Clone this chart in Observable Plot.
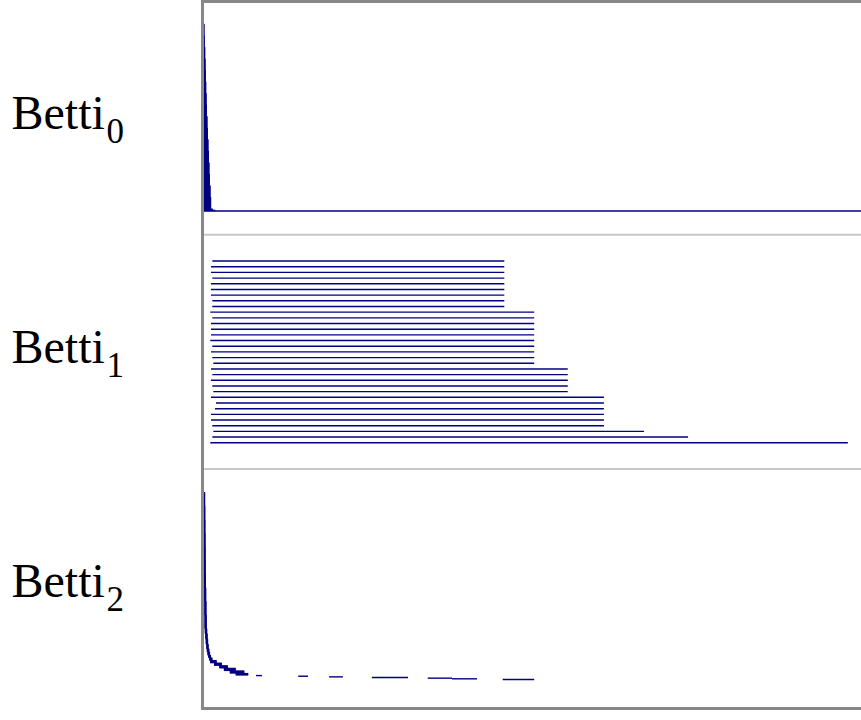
<!DOCTYPE html>
<html>
<head>
<meta charset="utf-8">
<script src="https://cdn.jsdelivr.net/npm/d3@7"></script>
<script src="https://cdn.jsdelivr.net/npm/@observablehq/plot@0.6"></script>
<style>
  body { margin: 0; background: #ffffff; }
  #chart svg { display: block; }
</style>
</head>
<body>
<div id="chart"></div>
<script>
// Homology dimensions (one band each)
const dims = ["0", "1", "2"];
const labelText = "Betti";

// Filtration range shown (arbitrary units, no axis in the reference)
const xMax = 100;

// Betti 0: all bars born at 0; deaths with multiplicities, last bar is infinite
const betti0Death = [0.15, 0.2, 0.26, 0.31, 0.36, 0.41, 0.47, 0.53, 0.6, 0.68, 0.75, 0.83, 0.9, 0.98, 1.07, 1.16, 1.4, 1.8, Infinity];
const betti0Count = [18, 18, 18, 18, 18, 18, 18, 18, 18, 18, 18, 18, 18, 18, 18, 18, 2, 1, 1];

// Betti 1: 33 bars
const betti1Birth = [1.34, 1.14, 1.14, 1.34, 1.14, 1.14, 1.14, 1.34, 1.34, 1.03, 1.34, 1.14, 1.14, 1.14, 1.03, 1.34, 1.14, 1.34, 1.49, 1.14, 1.34, 1.14, 1.34, 1.49, 1.14, 1.9, 1.75, 1.14, 1.14, 1.34, 1.49, 1.34, 1.03];
const betti1Death = [45.75, 45.75, 45.75, 45.75, 45.75, 45.75, 45.75, 45.75, 45.75,
                     50.3, 50.3, 50.3, 50.3, 50.3, 50.3, 50.3, 50.3, 50.3, 50.3,
                     55.4, 55.4, 55.4, 55.4, 55.4,
                     60.9, 60.9, 60.9, 60.9, 60.9, 60.9,
                     67.0, 73.7, 98.0];

// Betti 2: bars with multiplicities
const betti2Birth = [0.02, 0.02, 0.03, 0.04, 0.05, 0.06, 0.08, 0.1, 0.12, 0.15,
                     0.2, 0.27, 0.34, 0.42,
                     0.5, 0.6, 0.72, 0.85,
                     1.0, 1.6, 2.4, 3.1, 4.0, 4.9,
                     7.98, 14.4, 19.1, 25.6, 34.1, 37.8, 45.5];
const betti2Death = [0.25, 0.27, 0.29, 0.31, 0.33, 0.35, 0.38, 0.41, 0.45, 0.5,
                     0.56, 0.63, 0.7, 0.78,
                     0.88, 1.0, 1.15, 1.35,
                     2.0, 2.8, 3.7, 4.9, 6.2, 6.8,
                     8.9, 15.9, 21.2, 31.1, 37.8, 41.6, 50.3];
const betti2Count = [21, 21, 21, 21, 21, 21, 21, 21, 21, 21,
                     8, 8, 8, 7,
                     5, 5, 4, 4,
                     4, 4, 4, 4, 4, 3,
                     1, 1, 1, 1, 1, 1, 1];

function expand(dim, births, deaths, counts) {
  const rows = [];
  deaths.forEach((d, i) => {
    const c = counts ? counts[i] : 1;
    for (let k = 0; k < c; k++) rows.push({dim, birth: births[i], death: d});
  });
  rows.forEach((r, i) => { r.rank = i; r.n = rows.length; });
  return rows;
}

const bars = [
  ...expand("0", betti0Death.map(() => 0), betti0Death, betti0Count),
  ...expand("1", betti1Birth, betti1Death, null),
  ...expand("2", betti2Birth, betti2Death, betti2Count)
];

const barY = d => +d.dim + 0.1 + 0.8 * (d.rank + 0.5) / d.n;

const chart = Plot.plot({
  width: 861,
  height: 720,
  marginLeft: 202,
  marginRight: 0,
  marginTop: 1,
  marginBottom: 12,
  x: {domain: [0, xMax], range: [203.5, 861], axis: null},
  y: {domain: [0, 3.0226], range: [0.1, 708], axis: null},
  marks: [
    Plot.ruleY([1, 2], {stroke: "#c8c8c8", strokeWidth: 2}),
    Plot.ruleY(bars, {
      x1: "birth",
      x2: d => Math.min(d.death, xMax),
      y: barY,
      stroke: "#000080",
      strokeWidth: 1.4
    }),
    Plot.frame({stroke: "#888888", strokeWidth: 3, insetRight: -10}),
    Plot.text(dims, {
      y: d => +d + 0.5,
      text: () => labelText,
      frameAnchor: "left",
      textAnchor: "start",
      lineAnchor: "bottom",
      dx: -191,
      dy: 10.8,
      fontSize: 48,
      fontFamily: "Liberation Serif",
      fill: "#000000"
    }),
    Plot.text(dims, {
      y: d => +d + 0.5,
      text: d => d,
      frameAnchor: "left",
      textAnchor: "start",
      lineAnchor: "bottom",
      dx: -96,
      dy: 24.8,
      fontSize: 35,
      fontFamily: "Liberation Serif",
      fill: "#000000"
    })
  ]
});

document.getElementById("chart").appendChild(chart);
</script>
</body>
</html>
